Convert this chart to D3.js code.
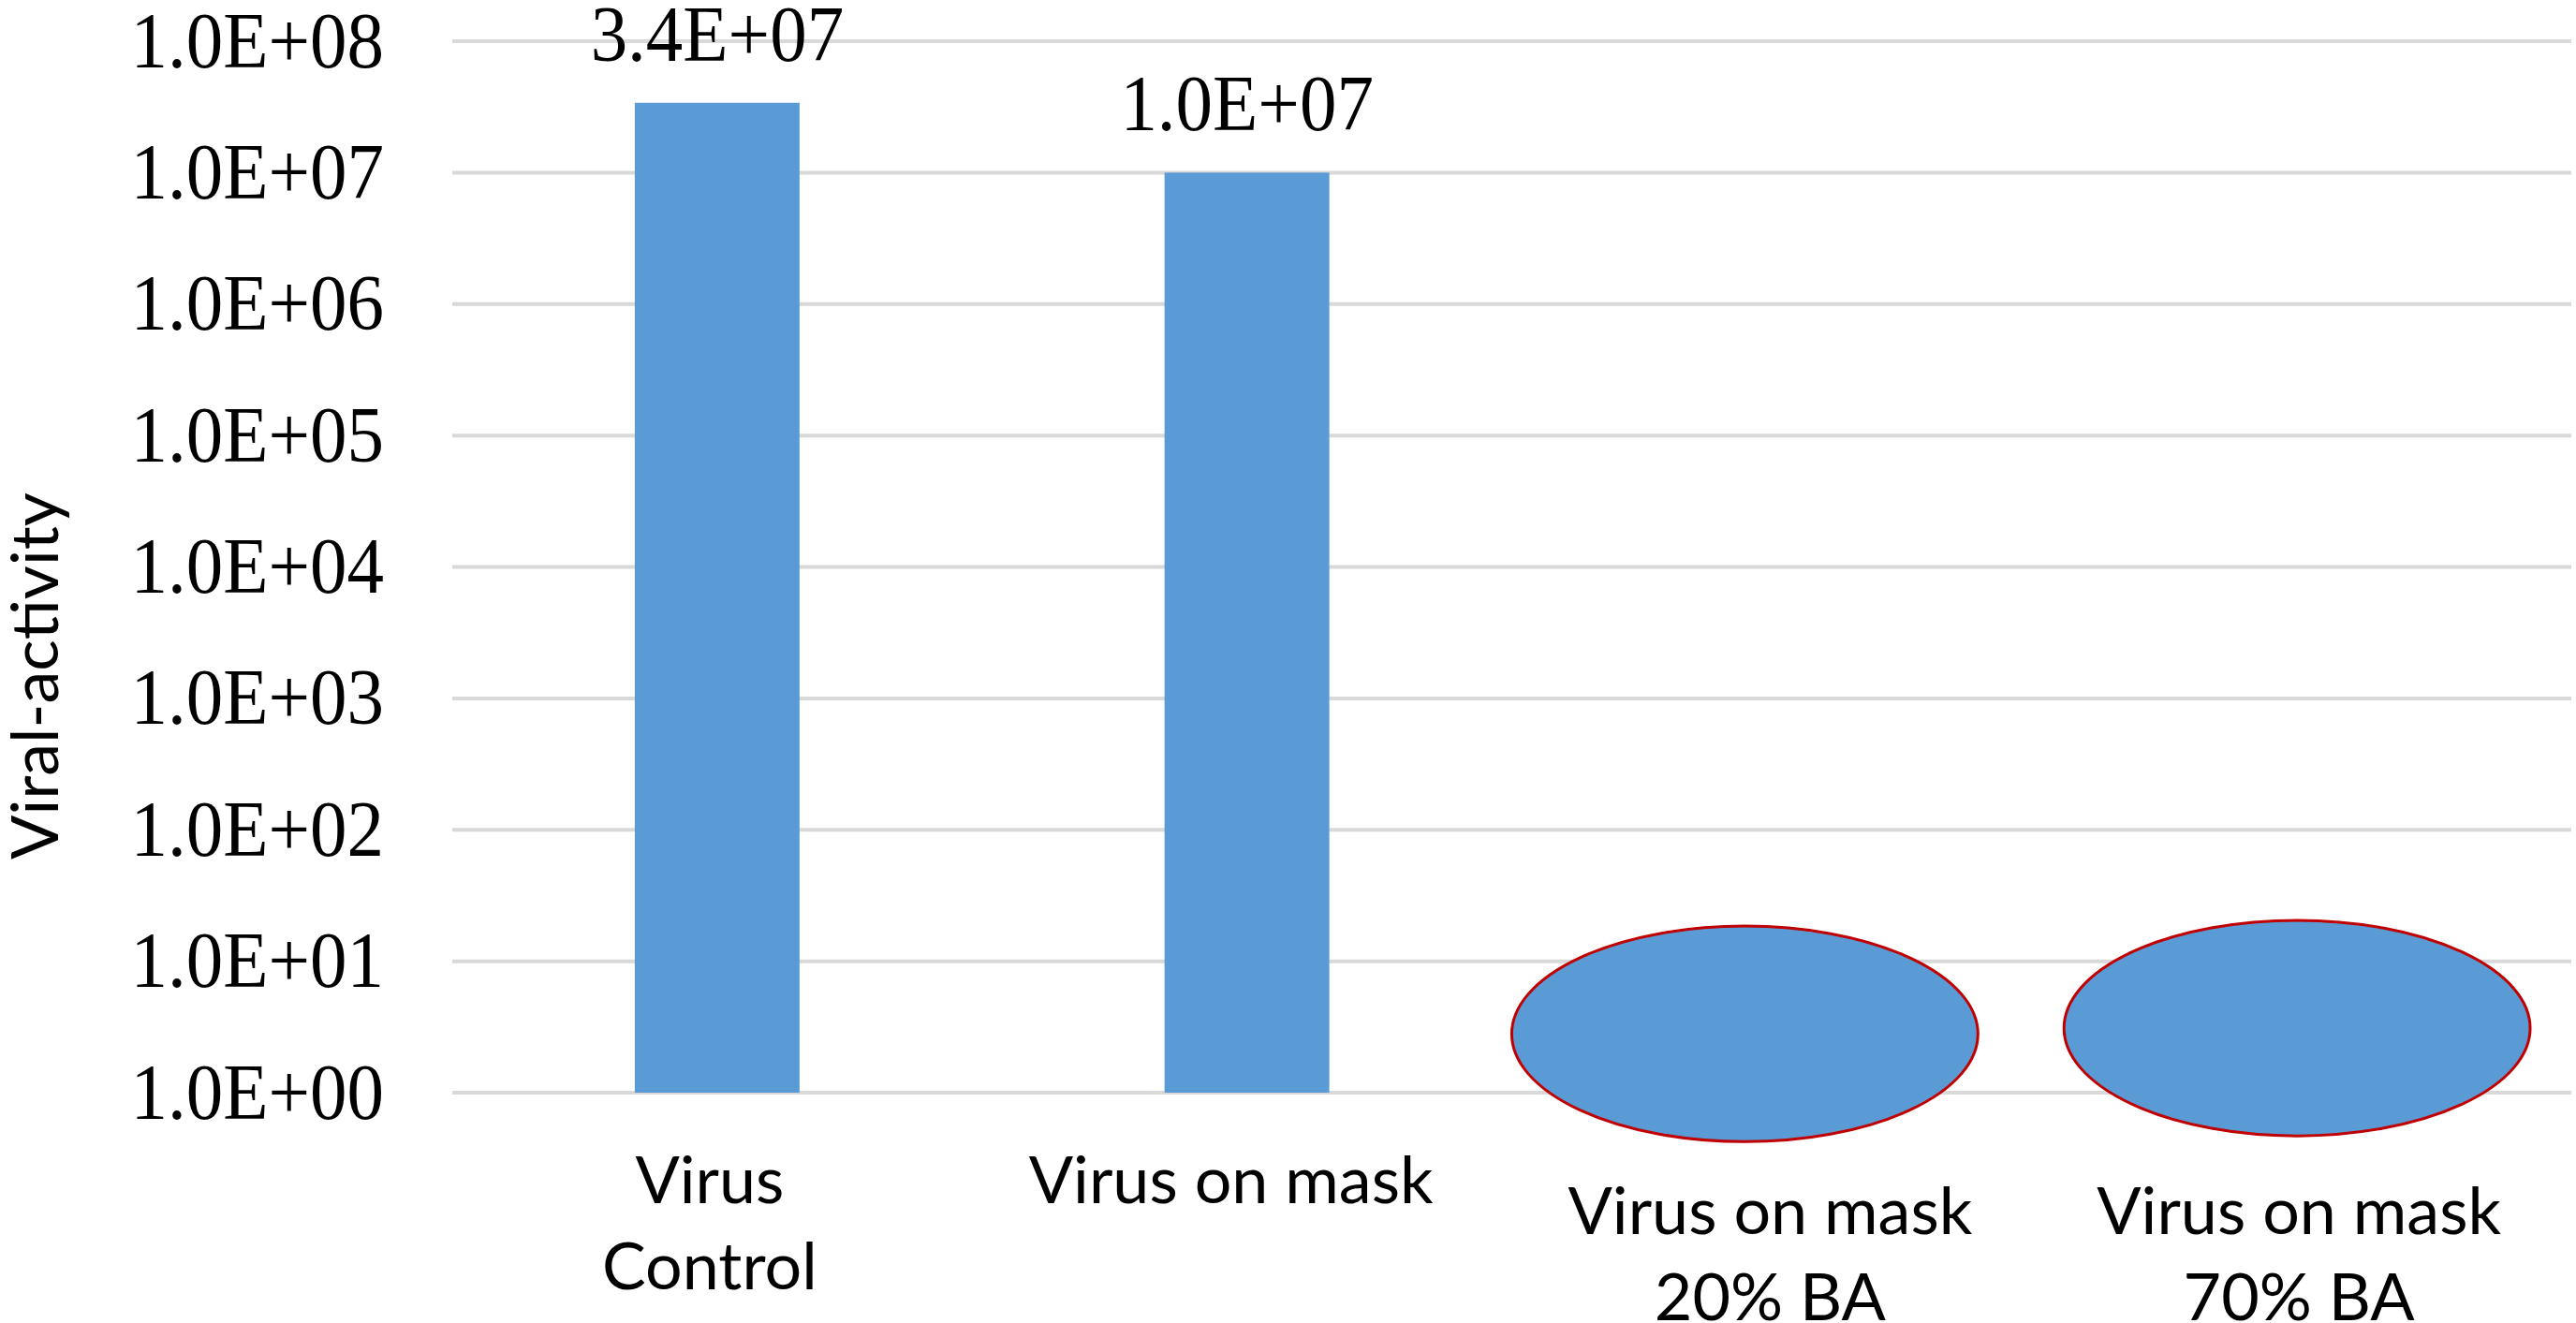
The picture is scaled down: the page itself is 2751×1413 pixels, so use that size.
<!DOCTYPE html>
<html>
<head>
<meta charset="utf-8">
<script src="https://cdn.jsdelivr.net/npm/d3@7"></script>
<style>
  html, body { margin: 0; padding: 0; background: #ffffff; }
  svg { display: block; }
</style>
</head>
<body>
<svg id="chart" width="2751" height="1413"></svg>
<script>
// ---- data ----
const categories = ["Virus Control", "Virus on mask", "Virus on mask 20% BA", "Virus on mask 70% BA"];
const categoryLines = [["Virus", "Control"], ["Virus on mask"], ["Virus on mask", "20% BA"], ["Virus on mask", "70% BA"]];
const values = [3.4e7, 1.0e7, null, null];
const yTickValues = [1, 1e1, 1e2, 1e3, 1e4, 1e5, 1e6, 1e7, 1e8];
const maskedCategories = ["Virus on mask 20% BA", "Virus on mask 70% BA"];
const maskLevels = [2.8, 3.1];
const yTitle = "Viral-activity";

// ---- layout / style ----
const W = 2751, H = 1413;
const plotLeft = 483, plotRight = 2746, plotTop = 44, plotBottom = 1167;
const barColor = "#5b9bd5";
const gridColor = "#d9d9d9";
const serif = "'Liberation Serif', 'Times New Roman', serif";
const sans = "Lato, 'Open Sans', sans-serif";
const maskShift = [-34, -10];

const svg = d3.select("#chart");

const y = d3.scaleLog().domain([1, 1e8]).range([plotBottom, plotTop]);
const x = d3.scaleBand().domain(categories).range([plotLeft, plotRight])
  .paddingInner(0.689).paddingOuter(0.3445);

function sci(v) {
  const e = Math.floor(Math.log10(v) + 1e-9);
  const m = v / Math.pow(10, e);
  const sign = e < 0 ? "-" : "+";
  const ee = String(Math.abs(e)).padStart(2, "0");
  return m.toFixed(1) + "E" + sign + ee;
}

// gridlines
svg.append("g").selectAll("line").data(yTickValues).join("line")
  .attr("x1", plotLeft).attr("x2", plotRight)
  .attr("y1", d => y(d)).attr("y2", d => y(d))
  .attr("stroke", gridColor).attr("stroke-width", 4);

// y axis (labels only)
const yAxis = svg.append("g").attr("transform", `translate(${plotLeft},0)`)
  .call(d3.axisLeft(y).tickValues(yTickValues).tickFormat(sci).tickSize(0).tickPadding(73));
yAxis.select(".domain").remove();
yAxis.selectAll("text")
  .attr("font-family", serif).attr("font-size", 79).attr("fill", "#000")
  .attr("dy", "0.32em")
  .attr("transform", "scale(1,1.07)");

// bars
const barData = categories.map((c, i) => ({c, v: values[i]})).filter(d => d.v != null);
svg.append("g").selectAll("rect").data(barData).join("rect")
  .attr("x", d => x(d.c)).attr("width", x.bandwidth())
  .attr("y", d => y(d.v)).attr("height", d => y(1) - y(d.v))
  .attr("fill", barColor);

// data labels
svg.append("g").selectAll("text").data(barData).join("text")
  .attr("transform", d => `translate(${x(d.c) + x.bandwidth() / 2},${y(d.v) - 45}) scale(1,1.07)`)
  .attr("text-anchor", "middle")
  .attr("font-family", serif).attr("font-size", 79).attr("fill", "#000")
  .text(d => sci(d.v));

// masking ellipses
const decade = y(1) - y(10);
svg.append("g").selectAll("ellipse").data(maskedCategories).join("ellipse")
  .attr("cx", (d, i) => x(d) + x.bandwidth() / 2 + maskShift[i])
  .attr("cy", (d, i) => y(maskLevels[i]))
  .attr("rx", x.step() * 0.44)
  .attr("ry", decade * 0.82)
  .attr("fill", barColor)
  .attr("stroke", "#c00000").attr("stroke-width", 3);

// x axis labels
const xAxis = svg.append("g").attr("transform", `translate(0,${plotBottom})`)
  .call(d3.axisBottom(x).tickSize(0).tickFormat(""));
xAxis.select(".domain").remove();
const labelShift = [-8, -17, -7, -8];
xAxis.selectAll(".tick").each(function(d, i) {
  const g = d3.select(this);
  g.selectAll("text").remove();
  const extra = maskedCategories.includes(d) ? 33 : 0;
  const t = g.append("text")
    .attr("font-family", sans).attr("font-size", 70).attr("fill", "#000")
    .attr("text-anchor", "middle");
  categoryLines[i].forEach((line, k) => {
    t.append("tspan").attr("x", labelShift[i]).attr("y", 118 + extra + k * 92).text(line);
  });
});

// y axis title
svg.append("text")
  .attr("transform", `translate(62,722) rotate(-90)`)
  .attr("text-anchor", "middle")
  .attr("font-family", sans).attr("font-size", 70).attr("fill", "#000")
  .text(yTitle);
</script>
</body>
</html>
